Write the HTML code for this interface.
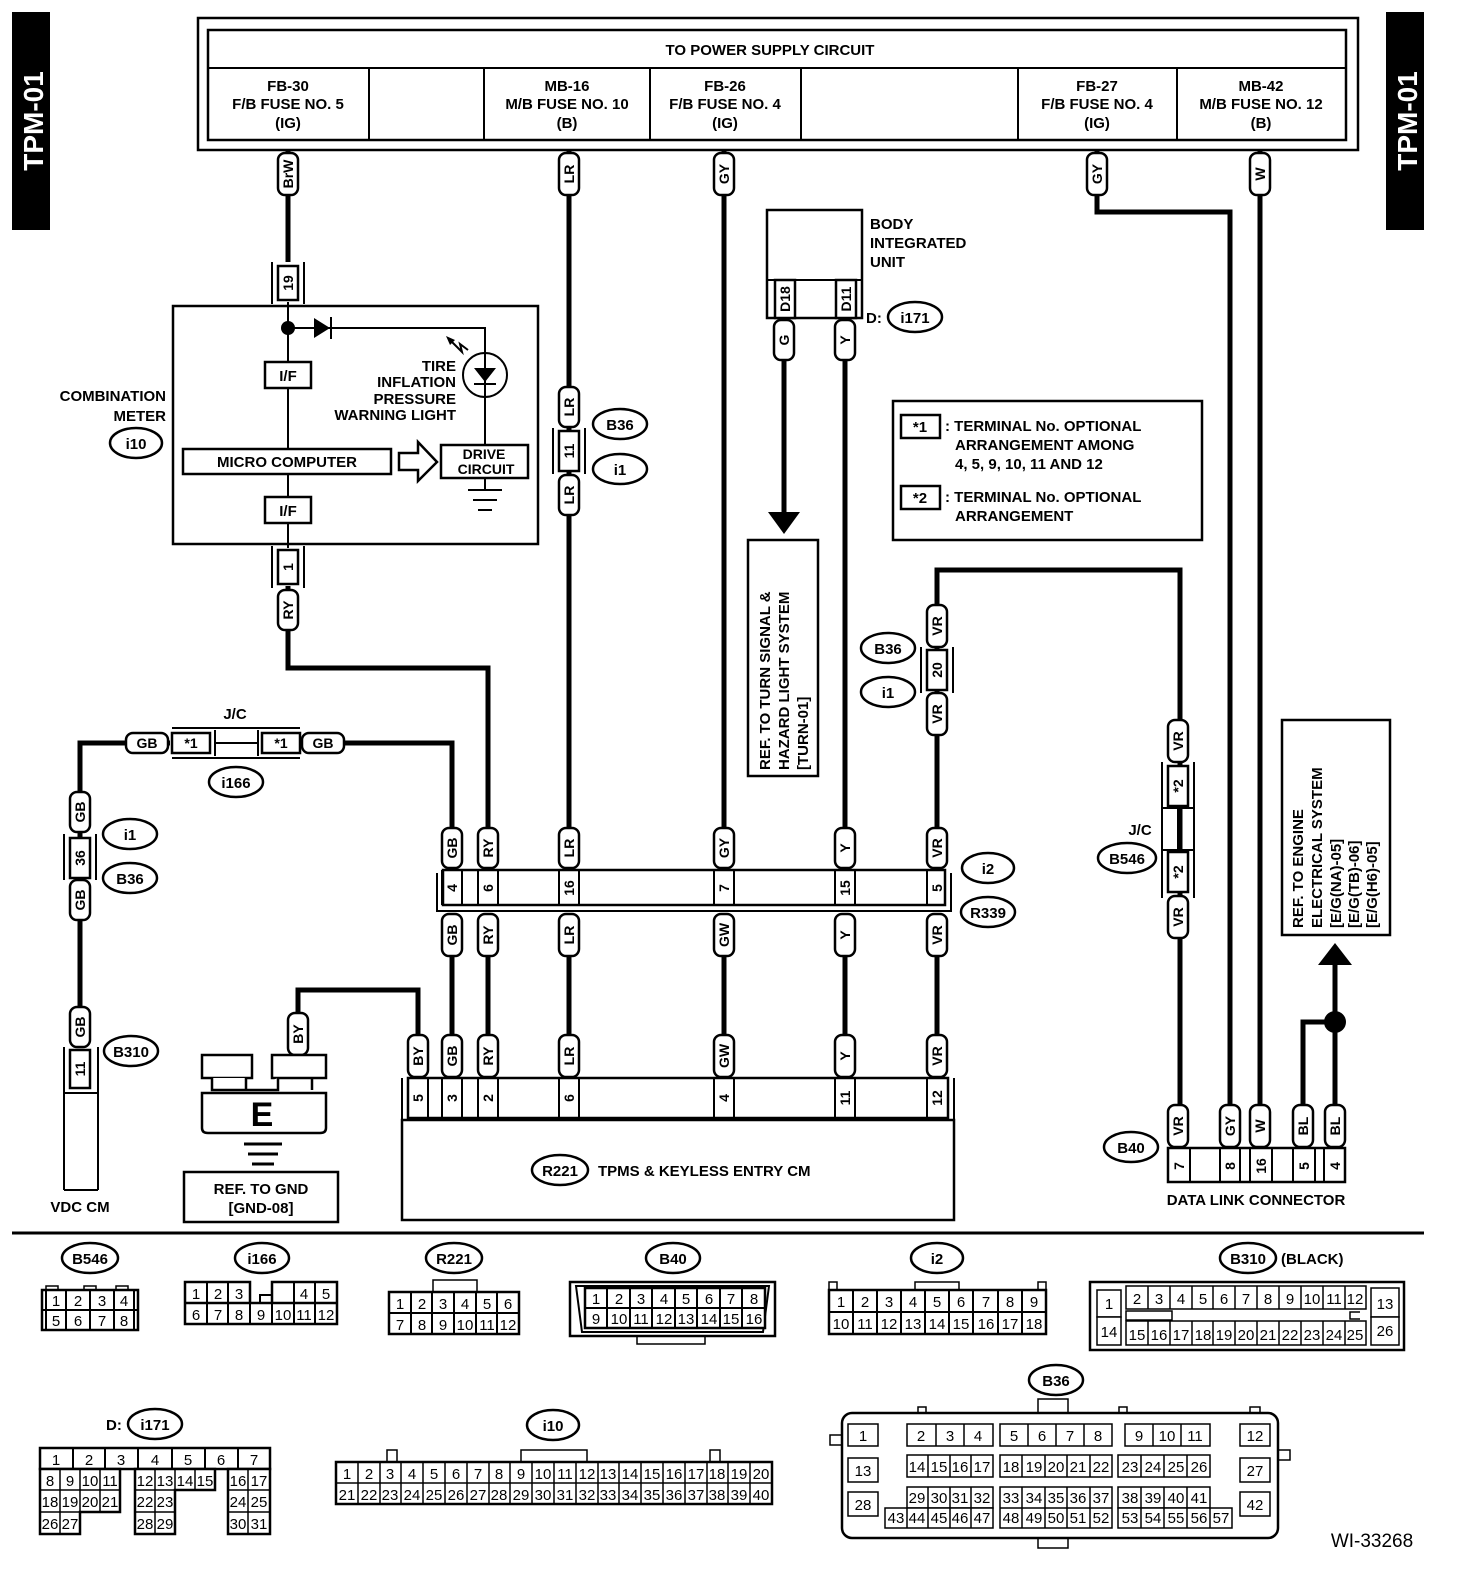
<!DOCTYPE html>
<html><head><meta charset="utf-8"><style>
html,body{margin:0;padding:0;background:#fff}
svg{display:block}
text{font-family:"Liberation Sans",sans-serif;font-weight:bold;fill:#000}
.t{font-size:15px}
.p{font-size:14px;text-anchor:middle;dominant-baseline:central}
.c{text-anchor:middle}
.n{font-family:"Liberation Sans Narrow","Liberation Sans",sans-serif;font-weight:normal;font-size:15px;text-anchor:middle}
.w{stroke:#000;stroke-width:5;fill:none}
.b{stroke:#000;stroke-width:2.5;fill:#fff}
.l{stroke:#000;stroke-width:2;fill:none}
.g{stroke:#000;stroke-width:1.5;fill:#fff}
</style></head><body>
<svg width="1472" height="1584" viewBox="0 0 1472 1584" xmlns="http://www.w3.org/2000/svg">
<!-- tabs -->
<rect x="12" y="12" width="38" height="218" fill="#000"/>
<text transform="translate(43,121) rotate(-90)" class="c" style="font-size:28px;fill:#fff">TPM-01</text>
<rect x="1386" y="12" width="38" height="218" fill="#000"/>
<text transform="translate(1417,121) rotate(-90)" class="c" style="font-size:28px;fill:#fff">TPM-01</text>

<!-- top box -->
<rect x="198" y="18" width="1160" height="132" class="b"/>
<rect x="208" y="30" width="1138" height="110" class="b"/>
<line x1="208" y1="68" x2="1346" y2="68" class="l"/>
<g class="l"><line x1="369" y1="68" x2="369" y2="140"/><line x1="484" y1="68" x2="484" y2="140"/><line x1="650" y1="68" x2="650" y2="140"/><line x1="801" y1="68" x2="801" y2="140"/><line x1="1018" y1="68" x2="1018" y2="140"/><line x1="1177" y1="68" x2="1177" y2="140"/></g>
<text x="770" y="55" class="t c">TO POWER SUPPLY CIRCUIT</text>
<g class="t c">
<text x="288" y="91" class="t c">FB-30</text><text x="288" y="109" class="t c">F/B FUSE NO. 5</text><text x="288" y="128" class="t c">(IG)</text>
<text x="567" y="91" class="t c">MB-16</text><text x="567" y="109" class="t c">M/B FUSE NO. 10</text><text x="567" y="128" class="t c">(B)</text>
<text x="725" y="91" class="t c">FB-26</text><text x="725" y="109" class="t c">F/B FUSE NO. 4</text><text x="725" y="128" class="t c">(IG)</text>
<text x="1097" y="91" class="t c">FB-27</text><text x="1097" y="109" class="t c">F/B FUSE NO. 4</text><text x="1097" y="128" class="t c">(IG)</text>
<text x="1261" y="91" class="t c">MB-42</text><text x="1261" y="109" class="t c">M/B FUSE NO. 12</text><text x="1261" y="128" class="t c">(B)</text>
</g>

<!-- wires -->
<g class="w">
<path d="M288 150 V262"/>
<path d="M288 586 V668 H488 V830"/>
<path d="M569 150 V830"/><path d="M569 955 V1035"/>
<path d="M724 150 V830"/><path d="M724 955 V1035"/>
<path d="M1097 150 V212 H1230 V1105"/>
<path d="M1260 150 V1105"/>
<path d="M784 318 V515"/>
<path d="M845 318 V830"/><path d="M845 955 V1035"/>
<path d="M937 830 V570 H1180 V1105"/><path d="M937 955 V1035"/>
<path d="M1303 1105 V1022 H1335"/><path d="M1335 1105 V960"/>
<path d="M452 830 V743 H300"/><path d="M170 743 H80 V1048"/>
<path d="M452 955 V1035"/><path d="M488 955 V1035"/>
<path d="M298 1035 V990 H418 V1035"/>
</g>
<polygon points="768,512 800,512 784,534" fill="#000"/>
<polygon points="1318,965 1352,965 1335,943" fill="#000"/>
<circle cx="1335" cy="1022" r="11" fill="#000"/>

<!-- combination meter -->
<rect x="173" y="306" width="365" height="238" class="b"/>
<line x1="288" y1="302" x2="288" y2="548" class="l"/>
<circle cx="288" cy="328" r="7" fill="#000"/>
<path d="M288 328 H485 V445" class="l"/>
<polygon points="314,318 314,338 330,328" fill="#000"/><line x1="331" y1="317" x2="331" y2="339" class="l"/>
<circle cx="485" cy="375" r="22" class="l"/>
<polygon points="474,368 496,368 485,382" fill="#000"/><line x1="474" y1="384" x2="496" y2="384" class="l"/>
<path d="M449 339 L462 352 L460 344 L468 350" class="l"/><polygon points="446,336 455,340 450,345" fill="#000"/>
<text x="456" y="371" class="t" text-anchor="end">TIRE</text>
<text x="456" y="387" class="t" text-anchor="end">INFLATION</text>
<text x="456" y="404" class="t" text-anchor="end">PRESSURE</text>
<text x="456" y="420" class="t" text-anchor="end">WARNING LIGHT</text>
<rect x="265" y="362" width="46" height="26" class="b"/><text x="288" y="381" class="t c">I/F</text>
<rect x="265" y="497" width="46" height="26" class="b"/><text x="288" y="516" class="t c">I/F</text>
<rect x="183" y="449" width="208" height="25" class="b"/><text x="287" y="467" class="t c">MICRO COMPUTER</text>
<polygon points="399,453 418,453 418,442 437,462 418,481 418,470 399,470" class="b"/>
<rect x="441" y="445" width="87" height="33" class="b"/>
<text x="484" y="459" class="c" style="font-size:14px">DRIVE</text><text x="486" y="474" class="c" style="font-size:14px">CIRCUIT</text>
<path d="M485 478 V490 M468 490 H502 M473 500 H497 M478 510 H492" class="l"/>
<text x="166" y="401" class="t" text-anchor="end">COMBINATION</text>
<text x="166" y="421" class="t" text-anchor="end">METER</text>
<ellipse cx="136" cy="443" rx="26" ry="15" class="b"/><text x="136" y="449" class="t c">i10</text>
<!-- connector 19 -->
<g class="l"><line x1="272" y1="262" x2="272" y2="304"/><line x1="304" y1="262" x2="304" y2="304"/></g>
<rect x="278" y="266" width="20" height="34" class="b"/><text transform="translate(288,283) rotate(-90)" class="p">19</text>
<g class="l"><line x1="272" y1="546" x2="272" y2="588"/><line x1="304" y1="546" x2="304" y2="588"/></g>
<rect x="278" y="550" width="20" height="34" class="b"/><text transform="translate(288,567) rotate(-90)" class="p">1</text>

<!-- pills vertical -->
<g>
<rect x="278" y="153" width="20" height="42" rx="7" class="b"/><text transform="translate(288,174) rotate(-90)" class="p">BrW</text>
<rect x="559" y="153" width="20" height="42" rx="7" class="b"/><text transform="translate(569,174) rotate(-90)" class="p">LR</text>
<rect x="714" y="153" width="20" height="42" rx="7" class="b"/><text transform="translate(724,174) rotate(-90)" class="p">GY</text>
<rect x="1087" y="153" width="20" height="42" rx="7" class="b"/><text transform="translate(1097,174) rotate(-90)" class="p">GY</text>
<rect x="1250" y="153" width="20" height="42" rx="7" class="b"/><text transform="translate(1260,174) rotate(-90)" class="p">W</text>
<rect x="278" y="590" width="20" height="40" rx="7" class="b"/><text transform="translate(288,610) rotate(-90)" class="p">RY</text>
<rect x="559" y="387" width="20" height="40" rx="7" class="b"/><text transform="translate(569,407) rotate(-90)" class="p">LR</text>
<rect x="559" y="475" width="20" height="40" rx="7" class="b"/><text transform="translate(569,495) rotate(-90)" class="p">LR</text>
<rect x="774" y="320" width="20" height="40" rx="7" class="b"/><text transform="translate(784,340) rotate(-90)" class="p">G</text>
<rect x="835" y="320" width="20" height="40" rx="7" class="b"/><text transform="translate(845,340) rotate(-90)" class="p">Y</text>
<rect x="927" y="605" width="20" height="42" rx="7" class="b"/><text transform="translate(937,626) rotate(-90)" class="p">VR</text>
<rect x="927" y="693" width="20" height="42" rx="7" class="b"/><text transform="translate(937,714) rotate(-90)" class="p">VR</text>
<rect x="1168" y="720" width="20" height="42" rx="7" class="b"/><text transform="translate(1178,741) rotate(-90)" class="p">VR</text>
<rect x="1168" y="896" width="20" height="42" rx="7" class="b"/><text transform="translate(1178,917) rotate(-90)" class="p">VR</text>
<rect x="70" y="792" width="20" height="40" rx="7" class="b"/><text transform="translate(80,812) rotate(-90)" class="p">GB</text>
<rect x="70" y="880" width="20" height="40" rx="7" class="b"/><text transform="translate(80,900) rotate(-90)" class="p">GB</text>
<rect x="70" y="1007" width="20" height="40" rx="7" class="b"/><text transform="translate(80,1027) rotate(-90)" class="p">GB</text>
<rect x="288" y="1013" width="20" height="42" rx="7" class="b"/><text transform="translate(298,1034) rotate(-90)" class="p">BY</text>
</g>
<!-- inline connectors LR 11, VR 20, GB 36, 11 -->
<g class="l"><line x1="553" y1="428" x2="553" y2="474"/><line x1="585" y1="428" x2="585" y2="474"/></g>
<rect x="559" y="431" width="20" height="40" class="b"/><text transform="translate(569,451) rotate(-90)" class="p">11</text>
<ellipse cx="620" cy="424" rx="27" ry="15" class="b"/><text x="620" y="430" class="t c">B36</text>
<ellipse cx="620" cy="469" rx="27" ry="15" class="b"/><text x="620" y="475" class="t c">i1</text>
<g class="l"><line x1="921" y1="647" x2="921" y2="693"/><line x1="953" y1="647" x2="953" y2="693"/></g>
<rect x="927" y="650" width="20" height="40" class="b"/><text transform="translate(937,670) rotate(-90)" class="p">20</text>
<ellipse cx="888" cy="648" rx="27" ry="15" class="b"/><text x="888" y="654" class="t c">B36</text>
<ellipse cx="888" cy="692" rx="27" ry="15" class="b"/><text x="888" y="698" class="t c">i1</text>
<g class="l"><line x1="64" y1="834" x2="64" y2="880"/><line x1="96" y1="834" x2="96" y2="880"/></g>
<rect x="70" y="838" width="20" height="40" class="b"/><text transform="translate(80,858) rotate(-90)" class="p">36</text>
<ellipse cx="130" cy="834" rx="27" ry="15" class="b"/><text x="130" y="840" class="t c">i1</text>
<ellipse cx="130" cy="878" rx="27" ry="15" class="b"/><text x="130" y="884" class="t c">B36</text>
<g class="l"><line x1="64" y1="1047" x2="64" y2="1190"/><line x1="98" y1="1047" x2="98" y2="1190"/><line x1="64" y1="1190" x2="98" y2="1190"/><line x1="64" y1="1093" x2="98" y2="1093"/></g>
<rect x="70" y="1050" width="20" height="38" class="b"/><text transform="translate(80,1069) rotate(-90)" class="p">11</text>
<ellipse cx="131" cy="1051" rx="27" ry="15" class="b"/><text x="131" y="1057" class="t c">B310</text>
<text x="80" y="1212" class="t c">VDC CM</text>

<!-- J/C i166 -->
<g class="l"><line x1="172" y1="728" x2="300" y2="728"/><line x1="172" y1="758" x2="300" y2="758"/><line x1="215" y1="743" x2="258" y2="743"/><line x1="215" y1="730" x2="215" y2="756"/><line x1="258" y1="730" x2="258" y2="756"/></g>
<rect x="126" y="733" width="42" height="20" rx="7" class="b"/><text x="147" y="743" class="p">GB</text>
<rect x="302" y="733" width="42" height="20" rx="7" class="b"/><text x="323" y="743" class="p">GB</text>
<rect x="172" y="733" width="38" height="20" class="b"/><text x="191" y="743" class="p">*1</text>
<rect x="262" y="733" width="38" height="20" class="b"/><text x="281" y="743" class="p">*1</text>
<text x="235" y="719" class="t c">J/C</text>
<ellipse cx="236" cy="782" rx="27" ry="15" class="b"/><text x="236" y="788" class="t c">i166</text>

<!-- Body integrated unit -->
<rect x="767" y="210" width="95" height="108" class="b"/>
<line x1="767" y1="280" x2="862" y2="280" class="l"/>
<rect x="775" y="280" width="20" height="38" class="b"/><text transform="translate(785,299) rotate(-90)" class="p">D18</text>
<rect x="836" y="280" width="20" height="38" class="b"/><text transform="translate(846,299) rotate(-90)" class="p">D11</text>
<text x="870" y="229" class="t">BODY</text><text x="870" y="248" class="t">INTEGRATED</text><text x="870" y="267" class="t">UNIT</text>
<text x="866" y="323" class="t">D:</text>
<ellipse cx="915" cy="317" rx="27" ry="15" class="b"/><text x="915" y="323" class="t c">i171</text>

<!-- legend -->
<rect x="893" y="401" width="309" height="139" class="b"/>
<rect x="901" y="415" width="39" height="23" class="b"/><text x="920" y="432" class="t c">*1</text>
<text x="945" y="431" class="t">: TERMINAL No. OPTIONAL</text>
<text x="955" y="450" class="t">ARRANGEMENT AMONG</text>
<text x="955" y="469" class="t">4, 5, 9, 10, 11 AND 12</text>
<rect x="901" y="486" width="39" height="23" class="b"/><text x="920" y="503" class="t c">*2</text>
<text x="945" y="502" class="t">: TERMINAL No. OPTIONAL</text>
<text x="955" y="521" class="t">ARRANGEMENT</text>

<!-- turn ref -->
<rect x="748" y="540" width="70" height="236" class="b"/>
<text transform="translate(770,770) rotate(-90)" class="t">REF. TO TURN SIGNAL &amp;</text>
<text transform="translate(789,770) rotate(-90)" class="t">HAZARD LIGHT SYSTEM</text>
<text transform="translate(808,770) rotate(-90)" class="t">[TURN-01]</text>

<!-- engine ref -->
<rect x="1282" y="720" width="108" height="215" class="b"/>
<text transform="translate(1303,928) rotate(-90)" class="t">REF. TO ENGINE</text>
<text transform="translate(1322,928) rotate(-90)" class="t">ELECTRICAL SYSTEM</text>
<text transform="translate(1341,928) rotate(-90)" class="t">[E/G(NA)-05]</text>
<text transform="translate(1359,928) rotate(-90)" class="t">[E/G(TB)-06]</text>
<text transform="translate(1377,928) rotate(-90)" class="t">[E/G(H6)-05]</text>

<!-- B546 J/C right -->
<g class="l"><line x1="1162" y1="762" x2="1162" y2="898"/><line x1="1194" y1="762" x2="1194" y2="898"/><line x1="1178" y1="805" x2="1178" y2="852"/><line x1="1162" y1="808" x2="1194" y2="808"/><line x1="1162" y1="850" x2="1194" y2="850"/></g>
<rect x="1168" y="766" width="20" height="40" class="b"/><text transform="translate(1178,786) rotate(-90)" class="p">*2</text>
<rect x="1168" y="852" width="20" height="40" class="b"/><text transform="translate(1178,872) rotate(-90)" class="p">*2</text>
<text x="1140" y="835" class="t c">J/C</text>
<ellipse cx="1127" cy="858" rx="29" ry="15" class="b"/><text x="1127" y="864" class="t c">B546</text>

<!-- i2 connector -->
<g class="l"><path d="M437 873 V911 H951 V873"/></g>
<rect x="443" y="870" width="502" height="35" class="b"/>
<g class="l">
<line x1="442" y1="870" x2="442" y2="905"/><line x1="462" y1="870" x2="462" y2="905"/><line x1="478" y1="870" x2="478" y2="905"/><line x1="498" y1="870" x2="498" y2="905"/>
<line x1="559" y1="870" x2="559" y2="905"/><line x1="579" y1="870" x2="579" y2="905"/><line x1="714" y1="870" x2="714" y2="905"/><line x1="734" y1="870" x2="734" y2="905"/>
<line x1="835" y1="870" x2="835" y2="905"/><line x1="855" y1="870" x2="855" y2="905"/><line x1="927" y1="870" x2="927" y2="905"/></g>
<g>
<text transform="translate(452,888) rotate(-90)" class="p">4</text><text transform="translate(488,888) rotate(-90)" class="p">6</text>
<text transform="translate(569,888) rotate(-90)" class="p">16</text><text transform="translate(724,888) rotate(-90)" class="p">7</text>
<text transform="translate(845,888) rotate(-90)" class="p">15</text><text transform="translate(937,888) rotate(-90)" class="p">5</text>
</g>
<ellipse cx="988" cy="868" rx="26" ry="15" class="b"/><text x="988" y="874" class="t c">i2</text>
<ellipse cx="988" cy="912" rx="27" ry="15" class="b"/><text x="988" y="918" class="t c">R339</text>
<g>
<rect x="442" y="828" width="20" height="40" rx="7" class="b"/><text transform="translate(452,848) rotate(-90)" class="p">GB</text>
<rect x="478" y="828" width="20" height="40" rx="7" class="b"/><text transform="translate(488,848) rotate(-90)" class="p">RY</text>
<rect x="559" y="828" width="20" height="40" rx="7" class="b"/><text transform="translate(569,848) rotate(-90)" class="p">LR</text>
<rect x="714" y="828" width="20" height="40" rx="7" class="b"/><text transform="translate(724,848) rotate(-90)" class="p">GY</text>
<rect x="835" y="828" width="20" height="40" rx="7" class="b"/><text transform="translate(845,848) rotate(-90)" class="p">Y</text>
<rect x="927" y="828" width="20" height="40" rx="7" class="b"/><text transform="translate(937,848) rotate(-90)" class="p">VR</text>
<rect x="442" y="914" width="20" height="42" rx="7" class="b"/><text transform="translate(452,935) rotate(-90)" class="p">GB</text>
<rect x="478" y="914" width="20" height="42" rx="7" class="b"/><text transform="translate(488,935) rotate(-90)" class="p">RY</text>
<rect x="559" y="914" width="20" height="42" rx="7" class="b"/><text transform="translate(569,935) rotate(-90)" class="p">LR</text>
<rect x="714" y="914" width="20" height="42" rx="7" class="b"/><text transform="translate(724,935) rotate(-90)" class="p">GW</text>
<rect x="835" y="914" width="20" height="42" rx="7" class="b"/><text transform="translate(845,935) rotate(-90)" class="p">Y</text>
<rect x="927" y="914" width="20" height="42" rx="7" class="b"/><text transform="translate(937,935) rotate(-90)" class="p">VR</text>
</g>

<!-- R221 -->
<g class="l"><line x1="402" y1="1078" x2="402" y2="1122"/><line x1="954" y1="1078" x2="954" y2="1122"/></g>
<rect x="408" y="1078" width="540" height="40" class="b"/>
<g class="l">
<line x1="428" y1="1078" x2="428" y2="1118"/><line x1="442" y1="1078" x2="442" y2="1118"/><line x1="462" y1="1078" x2="462" y2="1118"/><line x1="478" y1="1078" x2="478" y2="1118"/><line x1="498" y1="1078" x2="498" y2="1118"/>
<line x1="559" y1="1078" x2="559" y2="1118"/><line x1="579" y1="1078" x2="579" y2="1118"/><line x1="714" y1="1078" x2="714" y2="1118"/><line x1="734" y1="1078" x2="734" y2="1118"/>
<line x1="835" y1="1078" x2="835" y2="1118"/><line x1="855" y1="1078" x2="855" y2="1118"/><line x1="927" y1="1078" x2="927" y2="1118"/></g>
<text transform="translate(418,1098) rotate(-90)" class="p">5</text><text transform="translate(452,1098) rotate(-90)" class="p">3</text>
<text transform="translate(488,1098) rotate(-90)" class="p">2</text><text transform="translate(569,1098) rotate(-90)" class="p">6</text>
<text transform="translate(724,1098) rotate(-90)" class="p">4</text><text transform="translate(845,1098) rotate(-90)" class="p">11</text>
<text transform="translate(937,1098) rotate(-90)" class="p">12</text>
<rect x="402" y="1120" width="552" height="100" class="b"/>
<ellipse cx="560" cy="1170" rx="28" ry="15" class="b"/><text x="560" y="1176" class="t c">R221</text>
<text x="598" y="1176" class="t">TPMS &amp; KEYLESS ENTRY CM</text>
<g>
<rect x="408" y="1035" width="20" height="42" rx="7" class="b"/><text transform="translate(418,1056) rotate(-90)" class="p">BY</text>
<rect x="442" y="1035" width="20" height="42" rx="7" class="b"/><text transform="translate(452,1056) rotate(-90)" class="p">GB</text>
<rect x="478" y="1035" width="20" height="42" rx="7" class="b"/><text transform="translate(488,1056) rotate(-90)" class="p">RY</text>
<rect x="559" y="1035" width="20" height="42" rx="7" class="b"/><text transform="translate(569,1056) rotate(-90)" class="p">LR</text>
<rect x="714" y="1035" width="20" height="42" rx="7" class="b"/><text transform="translate(724,1056) rotate(-90)" class="p">GW</text>
<rect x="835" y="1035" width="20" height="42" rx="7" class="b"/><text transform="translate(845,1056) rotate(-90)" class="p">Y</text>
<rect x="927" y="1035" width="20" height="42" rx="7" class="b"/><text transform="translate(937,1056) rotate(-90)" class="p">VR</text>
</g>

<!-- ground E -->
<rect x="202" y="1055" width="50" height="23" class="b"/>
<rect x="272" y="1055" width="54" height="23" class="b"/>
<path d="M212 1078 V1090 H246 V1078 M278 1078 V1090 H246 M312 1078 V1090 M202 1093 H326 V1128 Q326 1133 320 1133 H208 Q202 1133 202 1128 Z" class="b"/>
<text x="262" y="1126" class="c" style="font-size:34px">E</text>
<path d="M244 1144 H282 M248 1154 H278 M252 1164 H274" class="l" style="stroke-width:3"/>
<rect x="184" y="1172" width="154" height="50" class="b"/>
<text x="261" y="1194" class="t c">REF. TO GND</text><text x="261" y="1213" class="t c">[GND-08]</text>

<!-- data link connector -->
<rect x="1168" y="1148" width="177" height="34" class="b"/>
<g class="l"><line x1="1190" y1="1148" x2="1190" y2="1182"/><line x1="1220" y1="1148" x2="1220" y2="1182"/><line x1="1240" y1="1148" x2="1240" y2="1182"/><line x1="1250" y1="1148" x2="1250" y2="1182"/><line x1="1272" y1="1148" x2="1272" y2="1182"/><line x1="1293" y1="1148" x2="1293" y2="1182"/><line x1="1315" y1="1148" x2="1315" y2="1182"/><line x1="1324" y1="1148" x2="1324" y2="1182"/></g>
<text transform="translate(1179,1166) rotate(-90)" class="p">7</text><text transform="translate(1230,1166) rotate(-90)" class="p">8</text>
<text transform="translate(1261,1166) rotate(-90)" class="p">16</text><text transform="translate(1304,1166) rotate(-90)" class="p">5</text>
<text transform="translate(1335,1166) rotate(-90)" class="p">4</text>
<rect x="1168" y="1105" width="20" height="42" rx="7" class="b"/><text transform="translate(1178,1126) rotate(-90)" class="p">VR</text>
<rect x="1220" y="1105" width="20" height="42" rx="7" class="b"/><text transform="translate(1230,1126) rotate(-90)" class="p">GY</text>
<rect x="1250" y="1105" width="20" height="42" rx="7" class="b"/><text transform="translate(1260,1126) rotate(-90)" class="p">W</text>
<rect x="1293" y="1105" width="20" height="42" rx="7" class="b"/><text transform="translate(1303,1126) rotate(-90)" class="p">BL</text>
<rect x="1325" y="1105" width="20" height="42" rx="7" class="b"/><text transform="translate(1335,1126) rotate(-90)" class="p">BL</text>
<ellipse cx="1131" cy="1147" rx="27" ry="15" class="b"/><text x="1131" y="1153" class="t c">B40</text>
<text x="1256" y="1205" class="t c">DATA LINK CONNECTOR</text>

<line x1="12" y1="1233" x2="1424" y2="1233" stroke="#000" stroke-width="3"/>

<!-- ===== connector pictograms ===== -->
<!-- B546 -->
<ellipse cx="90" cy="1258" rx="28" ry="15" class="b"/><text x="90" y="1264" class="t c">B546</text>
<rect x="46" y="1286" width="12" height="5" class="g"/><rect x="84" y="1286" width="12" height="5" class="g"/><rect x="116" y="1286" width="12" height="5" class="g"/>
<rect x="42" y="1290" width="96" height="40" class="b"/>
<path d="M46 1290 V1330 M66 1290 V1330 M90 1290 V1330 M114 1290 V1330 M134 1290 V1330 M42 1310 H138" class="l"/>
<text x="56" y="1306" class="n">1</text><text x="78" y="1306" class="n">2</text><text x="102" y="1306" class="n">3</text><text x="124" y="1306" class="n">4</text>
<text x="56" y="1326" class="n">5</text><text x="78" y="1326" class="n">6</text><text x="102" y="1326" class="n">7</text><text x="124" y="1326" class="n">8</text>
<!-- i166 -->
<ellipse cx="262" cy="1258" rx="27" ry="15" class="b"/><text x="262" y="1264" class="t c">i166</text>
<path d="M185 1282 H250 V1303 H185 Z M272 1282 H337 V1303 H272 Z M185 1303 H337 V1324 H185 Z" class="b"/>
<path d="M207 1282 V1324 M228 1282 V1324 M250 1303 V1324 M272 1303 V1324 M294 1282 V1324 M315 1282 V1324 M260 1303 V1295 H272 V1303" class="l"/>
<text x="196" y="1299" class="n">1</text><text x="218" y="1299" class="n">2</text><text x="239" y="1299" class="n">3</text><text x="304" y="1299" class="n">4</text><text x="326" y="1299" class="n">5</text>
<text x="196" y="1320" class="n">6</text><text x="218" y="1320" class="n">7</text><text x="239" y="1320" class="n">8</text><text x="261" y="1320" class="n">9</text><text x="283" y="1320" class="n">10</text><text x="304" y="1320" class="n">11</text><text x="326" y="1320" class="n">12</text>
<!-- R221 -->
<ellipse cx="454" cy="1258" rx="28" ry="15" class="b"/><text x="454" y="1264" class="t c">R221</text>
<rect x="433" y="1280" width="44" height="12" class="g"/>
<rect x="389" y="1292" width="130" height="42" class="b"/>
<path d="M411 1292 V1334 M432 1292 V1334 M454 1292 V1334 M476 1292 V1334 M497 1292 V1334 M389 1313 H519" class="l"/>
<text x="400" y="1309" class="n">1</text><text x="422" y="1309" class="n">2</text><text x="443" y="1309" class="n">3</text><text x="465" y="1309" class="n">4</text><text x="487" y="1309" class="n">5</text><text x="508" y="1309" class="n">6</text>
<text x="400" y="1330" class="n">7</text><text x="422" y="1330" class="n">8</text><text x="443" y="1330" class="n">9</text><text x="465" y="1330" class="n">10</text><text x="487" y="1330" class="n">11</text><text x="508" y="1330" class="n">12</text>
<!-- B40 -->
<ellipse cx="673" cy="1258" rx="27" ry="15" class="b"/><text x="673" y="1264" class="t c">B40</text>
<rect x="637" y="1334" width="68" height="10" class="g"/>
<rect x="570" y="1282" width="205" height="54" class="b"/>
<path d="M576 1286 H769 L763 1332 H582 Z" class="l"/>
<rect x="585" y="1288" width="180" height="40" class="b"/>
<path d="M607 1288 V1328 M630 1288 V1328 M652 1288 V1328 M675 1288 V1328 M697 1288 V1328 M720 1288 V1328 M742 1288 V1328 M585 1308 H765" class="l"/>
<text x="596" y="1304" class="n">1</text><text x="619" y="1304" class="n">2</text><text x="641" y="1304" class="n">3</text><text x="664" y="1304" class="n">4</text><text x="686" y="1304" class="n">5</text><text x="709" y="1304" class="n">6</text><text x="731" y="1304" class="n">7</text><text x="754" y="1304" class="n">8</text>
<text x="596" y="1324" class="n">9</text><text x="619" y="1324" class="n">10</text><text x="641" y="1324" class="n">11</text><text x="664" y="1324" class="n">12</text><text x="686" y="1324" class="n">13</text><text x="709" y="1324" class="n">14</text><text x="731" y="1324" class="n">15</text><text x="754" y="1324" class="n">16</text>
<!-- i2 -->
<ellipse cx="937" cy="1258" rx="26" ry="15" class="b"/><text x="937" y="1264" class="t c">i2</text>
<rect x="829" y="1282" width="8" height="8" class="g"/><rect x="1038" y="1282" width="8" height="8" class="g"/><rect x="915" y="1282" width="44" height="8" class="g"/>
<rect x="829" y="1290" width="217" height="44" class="b"/>
<path d="M853 1290 V1334 M877 1290 V1334 M901 1290 V1334 M925 1290 V1334 M949 1290 V1334 M973 1290 V1334 M998 1290 V1334 M1022 1290 V1334 M829 1312 H1046" class="l"/>
<text x="841" y="1307" class="n">1</text><text x="865" y="1307" class="n">2</text><text x="889" y="1307" class="n">3</text><text x="913" y="1307" class="n">4</text><text x="937" y="1307" class="n">5</text><text x="961" y="1307" class="n">6</text><text x="986" y="1307" class="n">7</text><text x="1010" y="1307" class="n">8</text><text x="1034" y="1307" class="n">9</text>
<text x="841" y="1329" class="n">10</text><text x="865" y="1329" class="n">11</text><text x="889" y="1329" class="n">12</text><text x="913" y="1329" class="n">13</text><text x="937" y="1329" class="n">14</text><text x="961" y="1329" class="n">15</text><text x="986" y="1329" class="n">16</text><text x="1010" y="1329" class="n">17</text><text x="1034" y="1329" class="n">18</text>
<!-- B310 -->
<ellipse cx="1248" cy="1258" rx="28" ry="15" class="b"/><text x="1248" y="1264" class="t c">B310</text>
<text x="1281" y="1264" class="t">(BLACK)</text>
<rect x="1090" y="1282" width="314" height="68" class="b"/>
<rect x="1097" y="1290" width="24" height="27" class="g"/><rect x="1097" y="1317" width="24" height="28" class="g"/>
<rect x="1371" y="1288" width="28" height="29" class="g"/><rect x="1371" y="1317" width="28" height="28" class="g"/>
<rect x="1126" y="1286" width="240" height="23" class="g"/><rect x="1126" y="1321" width="240" height="24" class="g"/>
<path d="M1148 1286 V1309 M1170 1286 V1309 M1192 1286 V1309 M1213 1286 V1309 M1235 1286 V1309 M1257 1286 V1309 M1279 1286 V1309 M1301 1286 V1309 M1323 1286 V1309 M1345 1286 V1309 M1148 1321 V1345 M1170 1321 V1345 M1192 1321 V1345 M1213 1321 V1345 M1235 1321 V1345 M1257 1321 V1345 M1279 1321 V1345 M1301 1321 V1345 M1323 1321 V1345 M1345 1321 V1345" class="l" style="stroke-width:1.5"/>
<rect x="1126" y="1311" width="46" height="9" class="g"/><path d="M1360 1312 H1350 V1319 H1360" class="l" style="stroke-width:1.5"/>
<text x="1109" y="1309" class="n">1</text><text x="1109" y="1337" class="n">14</text><text x="1385" y="1309" class="n">13</text><text x="1385" y="1336" class="n">26</text>
<text x="1137" y="1304" class="n">2</text><text x="1159" y="1304" class="n">3</text><text x="1181" y="1304" class="n">4</text><text x="1203" y="1304" class="n">5</text><text x="1224" y="1304" class="n">6</text><text x="1246" y="1304" class="n">7</text><text x="1268" y="1304" class="n">8</text><text x="1290" y="1304" class="n">9</text><text x="1312" y="1304" class="n">10</text><text x="1334" y="1304" class="n">11</text><text x="1355" y="1304" class="n">12</text>
<text x="1137" y="1340" class="n">15</text><text x="1159" y="1340" class="n">16</text><text x="1181" y="1340" class="n">17</text><text x="1203" y="1340" class="n">18</text><text x="1224" y="1340" class="n">19</text><text x="1246" y="1340" class="n">20</text><text x="1268" y="1340" class="n">21</text><text x="1290" y="1340" class="n">22</text><text x="1312" y="1340" class="n">23</text><text x="1334" y="1340" class="n">24</text><text x="1355" y="1340" class="n">25</text>

<!-- i171 -->
<text x="106" y="1430" class="t">D:</text>
<ellipse cx="155" cy="1424" rx="27" ry="15" class="b"/><text x="155" y="1430" class="t c">i171</text>
<rect x="40" y="1448" width="230" height="21" class="b"/>
<path d="M73 1448 V1469 M105 1448 V1469 M138 1448 V1469 M172 1448 V1469 M205 1448 V1469 M238 1448 V1469" class="l"/>
<path d="M40 1469 H120 V1512 H80 V1534 H40 Z M135 1469 H215 V1490 H175 V1534 H135 Z M228 1469 H270 V1534 H228 Z" class="b"/>
<path d="M60 1469 V1534 M80 1469 V1512 M100 1469 V1512 M40 1490 H120 M40 1512 H80 M155 1469 V1534 M175 1469 V1490 M195 1469 V1490 M135 1490 H175 M135 1512 H175 M248 1469 V1534 M228 1490 H270 M228 1512 H270" class="l" style="stroke-width:1.5"/>
<text x="56" y="1465" class="n">1</text><text x="89" y="1465" class="n">2</text><text x="121" y="1465" class="n">3</text><text x="155" y="1465" class="n">4</text><text x="188" y="1465" class="n">5</text><text x="221" y="1465" class="n">6</text><text x="254" y="1465" class="n">7</text>
<text x="50" y="1486" class="n">8</text><text x="70" y="1486" class="n">9</text><text x="90" y="1486" class="n">10</text><text x="110" y="1486" class="n">11</text><text x="145" y="1486" class="n">12</text><text x="165" y="1486" class="n">13</text><text x="185" y="1486" class="n">14</text><text x="205" y="1486" class="n">15</text><text x="238" y="1486" class="n">16</text><text x="259" y="1486" class="n">17</text>
<text x="50" y="1507" class="n">18</text><text x="70" y="1507" class="n">19</text><text x="90" y="1507" class="n">20</text><text x="110" y="1507" class="n">21</text><text x="145" y="1507" class="n">22</text><text x="165" y="1507" class="n">23</text><text x="238" y="1507" class="n">24</text><text x="259" y="1507" class="n">25</text>
<text x="50" y="1529" class="n">26</text><text x="70" y="1529" class="n">27</text><text x="145" y="1529" class="n">28</text><text x="165" y="1529" class="n">29</text><text x="238" y="1529" class="n">30</text><text x="259" y="1529" class="n">31</text>

<!-- i10 -->
<ellipse cx="553" cy="1425" rx="26" ry="15" class="b"/><text x="553" y="1431" class="t c">i10</text>
<rect x="387" y="1450" width="10" height="12" class="g"/><rect x="710" y="1450" width="10" height="12" class="g"/><rect x="521" y="1450" width="66" height="12" class="g"/>
<rect x="336" y="1462" width="436" height="42" class="b"/>
<path d="M358 1462 V1504 M380 1462 V1504 M401 1462 V1504 M423 1462 V1504 M445 1462 V1504 M467 1462 V1504 M489 1462 V1504 M510 1462 V1504 M532 1462 V1504 M554 1462 V1504 M576 1462 V1504 M598 1462 V1504 M619 1462 V1504 M641 1462 V1504 M663 1462 V1504 M685 1462 V1504 M707 1462 V1504 M728 1462 V1504 M750 1462 V1504 M336 1483 H772" class="l" style="stroke-width:1.5"/>
<text x="347" y="1479" class="n">1</text><text x="369" y="1479" class="n">2</text><text x="390" y="1479" class="n">3</text><text x="412" y="1479" class="n">4</text><text x="434" y="1479" class="n">5</text><text x="456" y="1479" class="n">6</text><text x="478" y="1479" class="n">7</text><text x="499" y="1479" class="n">8</text><text x="521" y="1479" class="n">9</text><text x="543" y="1479" class="n">10</text><text x="565" y="1479" class="n">11</text><text x="587" y="1479" class="n">12</text><text x="608" y="1479" class="n">13</text><text x="630" y="1479" class="n">14</text><text x="652" y="1479" class="n">15</text><text x="674" y="1479" class="n">16</text><text x="696" y="1479" class="n">17</text><text x="717" y="1479" class="n">18</text><text x="739" y="1479" class="n">19</text><text x="761" y="1479" class="n">20</text>
<text x="347" y="1500" class="n">21</text><text x="369" y="1500" class="n">22</text><text x="390" y="1500" class="n">23</text><text x="412" y="1500" class="n">24</text><text x="434" y="1500" class="n">25</text><text x="456" y="1500" class="n">26</text><text x="478" y="1500" class="n">27</text><text x="499" y="1500" class="n">28</text><text x="521" y="1500" class="n">29</text><text x="543" y="1500" class="n">30</text><text x="565" y="1500" class="n">31</text><text x="587" y="1500" class="n">32</text><text x="608" y="1500" class="n">33</text><text x="630" y="1500" class="n">34</text><text x="652" y="1500" class="n">35</text><text x="674" y="1500" class="n">36</text><text x="696" y="1500" class="n">37</text><text x="717" y="1500" class="n">38</text><text x="739" y="1500" class="n">39</text><text x="761" y="1500" class="n">40</text>

<!-- B36 -->
<ellipse cx="1056" cy="1380" rx="27" ry="15" class="b"/><text x="1056" y="1386" class="t c">B36</text>
<rect x="1038" y="1399" width="30" height="14" class="g"/><rect x="1038" y="1538" width="30" height="10" class="g"/>
<rect x="830" y="1435" width="12" height="10" class="g"/><rect x="1278" y="1450" width="12" height="10" class="g"/>
<rect x="918" y="1407" width="8" height="6" class="g"/><rect x="1119" y="1407" width="8" height="6" class="g"/><rect x="1250" y="1407" width="10" height="6" class="g"/>
<rect x="842" y="1413" width="436" height="125" rx="10" class="b"/>
<g class="g">
<rect x="848" y="1424" width="30" height="22"/><rect x="848" y="1458" width="30" height="24"/><rect x="848" y="1492" width="30" height="24"/>
<rect x="1240" y="1424" width="30" height="22"/><rect x="1240" y="1458" width="30" height="24"/><rect x="1240" y="1492" width="30" height="24"/>
<rect x="907" y="1424" width="86" height="22"/><rect x="1000" y="1424" width="112" height="22"/><rect x="1125" y="1424" width="85" height="22"/>
<rect x="907" y="1455" width="86" height="22"/><rect x="1000" y="1455" width="112" height="22"/><rect x="1118" y="1455" width="92" height="22"/>
<rect x="907" y="1487" width="86" height="21"/><rect x="1000" y="1487" width="112" height="41"/><rect x="1118" y="1487" width="92" height="21"/>
<rect x="885" y="1508" width="108" height="20"/><rect x="1118" y="1508" width="114" height="20"/>
</g>
<path d="M936 1424 V1446 M964 1424 V1446 M1028 1424 V1446 M1056 1424 V1446 M1084 1424 V1446 M1153 1424 V1446 M1181 1424 V1446
M928 1455 V1477 M950 1455 V1477 M971 1455 V1477 M1022 1455 V1477 M1045 1455 V1477 M1067 1455 V1477 M1090 1455 V1477 M1141 1455 V1477 M1164 1455 V1477 M1187 1455 V1477
M928 1487 V1528 M950 1487 V1528 M971 1487 V1528 M907 1508 V1528 M1022 1487 V1528 M1045 1487 V1528 M1067 1487 V1528 M1090 1487 V1528 M1000 1508 H1112 M1141 1487 V1528 M1164 1487 V1528 M1187 1487 V1528 M1210 1508 V1528" class="l" style="stroke-width:1.5"/>
<text x="863" y="1441" class="n">1</text><text x="863" y="1476" class="n">13</text><text x="863" y="1510" class="n">28</text>
<text x="1255" y="1441" class="n">12</text><text x="1255" y="1476" class="n">27</text><text x="1255" y="1510" class="n">42</text>
<text x="921" y="1441" class="n">2</text><text x="950" y="1441" class="n">3</text><text x="978" y="1441" class="n">4</text>
<text x="1014" y="1441" class="n">5</text><text x="1042" y="1441" class="n">6</text><text x="1070" y="1441" class="n">7</text><text x="1098" y="1441" class="n">8</text>
<text x="1139" y="1441" class="n">9</text><text x="1167" y="1441" class="n">10</text><text x="1195" y="1441" class="n">11</text>
<text x="917" y="1472" class="n">14</text><text x="939" y="1472" class="n">15</text><text x="960" y="1472" class="n">16</text><text x="982" y="1472" class="n">17</text>
<text x="1011" y="1472" class="n">18</text><text x="1034" y="1472" class="n">19</text><text x="1056" y="1472" class="n">20</text><text x="1078" y="1472" class="n">21</text><text x="1101" y="1472" class="n">22</text>
<text x="1130" y="1472" class="n">23</text><text x="1153" y="1472" class="n">24</text><text x="1176" y="1472" class="n">25</text><text x="1199" y="1472" class="n">26</text>
<text x="917" y="1503" class="n">29</text><text x="939" y="1503" class="n">30</text><text x="960" y="1503" class="n">31</text><text x="982" y="1503" class="n">32</text>
<text x="1011" y="1503" class="n">33</text><text x="1034" y="1503" class="n">34</text><text x="1056" y="1503" class="n">35</text><text x="1078" y="1503" class="n">36</text><text x="1101" y="1503" class="n">37</text>
<text x="1130" y="1503" class="n">38</text><text x="1153" y="1503" class="n">39</text><text x="1176" y="1503" class="n">40</text><text x="1199" y="1503" class="n">41</text>
<text x="896" y="1523" class="n">43</text><text x="917" y="1523" class="n">44</text><text x="939" y="1523" class="n">45</text><text x="960" y="1523" class="n">46</text><text x="982" y="1523" class="n">47</text>
<text x="1011" y="1523" class="n">48</text><text x="1034" y="1523" class="n">49</text><text x="1056" y="1523" class="n">50</text><text x="1078" y="1523" class="n">51</text><text x="1101" y="1523" class="n">52</text>
<text x="1130" y="1523" class="n">53</text><text x="1153" y="1523" class="n">54</text><text x="1176" y="1523" class="n">55</text><text x="1199" y="1523" class="n">56</text><text x="1221" y="1523" class="n">57</text>

<text x="1372" y="1547" class="c" style="font-size:19px;font-weight:normal">WI-33268</text>
</svg>
</body></html>
